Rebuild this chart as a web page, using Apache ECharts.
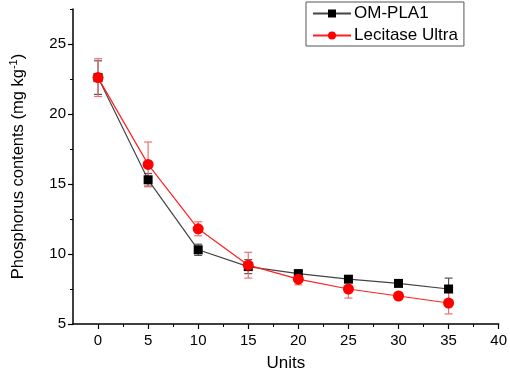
<!DOCTYPE html>
<html><head><meta charset="utf-8">
<script src="https://cdn.jsdelivr.net/npm/echarts@6/dist/echarts.min.js"></script>
<style>html,body{margin:0;padding:0;background:#fff}#c{width:510px;height:377px}</style>
</head><body><div id="c"></div>
<script>
var units = [0, 5, 10, 15, 20, 25, 30, 35];
var omPla1 = [22.6, 15.3, 10.3, 9.1, 8.6, 8.2, 7.9, 7.5];
var omPla1Err = [1.2, 0.45, 0.4, 0.5, 0.2, 0.15, 0.2, 0.78];
var lecitase = [22.6, 16.4, 11.8, 9.2, 8.2, 7.5, 7.0, 6.5];
var lecitaseErr = [1.35, 1.6, 0.5, 0.92, 0.4, 0.65, 0.25, 0.78];
var xMajor = [0, 5, 10, 15, 20, 25, 30, 35, 40];
var xMinor = [2.5, 7.5, 12.5, 17.5, 22.5, 27.5, 32.5, 37.5];
var yMajor = [5, 10, 15, 20, 25];
var yMinor = [7.5, 12.5, 17.5, 22.5, 27.5];

var FONT = '"Liberation Sans", Arial, sans-serif';
function pairs(xs, ys){ return xs.map(function(x,i){ return [x, ys[i]]; }); }
function errData(xs, ys, es){ return xs.map(function(x,i){ return [x, ys[i]-es[i], ys[i]+es[i]]; }); }
function errSeries(name, data, color){
  return {
    type: 'custom', name: name + ' err', xAxisIndex: 0, yAxisIndex: 0, z: 1, silent: true,
    data: data,
    renderItem: function(params, api){
      var x = api.value(0);
      var lo = api.coord([x, api.value(1)]);
      var hi = api.coord([x, api.value(2)]);
      var w = 4;
      var st = {stroke: color, lineWidth: 1.2};
      return {type: 'group', children: [
        {type:'line', shape:{x1:lo[0], y1:lo[1], x2:hi[0], y2:hi[1]}, style: st},
        {type:'line', shape:{x1:lo[0]-w, y1:lo[1], x2:lo[0]+w, y2:lo[1]}, style: st},
        {type:'line', shape:{x1:hi[0]-w, y1:hi[1], x2:hi[0]+w, y2:hi[1]}, style: st}
      ]};
    }
  };
}
var axisLine = {show: true, onZero: false, lineStyle: {color: '#000', width: 1.5}};
var chart = echarts.init(document.getElementById('c'));
chart.setOption({
  animation: false,
  grid: {left: 58, right: 8, top: 9, bottom: 51, containLabel: false},
  legend: {
    orient: 'vertical', left: 306, top: 2, width: 156,
    itemWidth: 38, itemHeight: 10, itemGap: 5,
    padding: [3, 6, 2, 6],
    borderColor: '#555', borderWidth: 1,
    textStyle: {fontFamily: FONT, fontSize: 17, color: '#000', padding: [0, 0, 0, -2]},
    data: ['OM-PLA1', 'Lecitase Ultra']
  },
  xAxis: [{
    type: 'value', min: -2.5, max: 40,
    name: 'Units', nameLocation: 'middle', nameGap: 31,
    nameTextStyle: {fontFamily: FONT, fontSize: 17, color: '#000'},
    axisLine: axisLine,
    axisTick: {show: true, length: 5, customValues: xMajor, lineStyle: {color: '#000', width: 1.2}},
    axisLabel: {show: true, customValues: xMajor, margin: 9, fontFamily: FONT, fontSize: 15, color: '#000'},
    splitLine: {show: false}
  }, {
    type: 'value', min: -2.5, max: 40, position: 'bottom',
    axisLine: {show: false, onZero: false},
    axisTick: {show: true, length: 3, customValues: xMinor, lineStyle: {color: '#000', width: 1}},
    axisLabel: {show: false}, splitLine: {show: false}
  }],
  yAxis: [{
    type: 'value', min: 5, max: 27.5,
    name: '{a|Phosphorus contents (mg kg}{s|-1}{a|)}', nameLocation: 'middle', nameGap: 45,
    nameTextStyle: {
      rich: {
        a: {fontFamily: FONT, fontSize: 16.5, color: '#000'},
        s: {fontFamily: FONT, fontSize: 11, color: '#000', padding: [0, 0, 9, 0]}
      }
    },
    axisLine: axisLine,
    axisTick: {show: true, length: 5, customValues: yMajor, lineStyle: {color: '#000', width: 1.2}},
    axisLabel: {show: true, customValues: yMajor, margin: 7, fontFamily: FONT, fontSize: 15, color: '#000'},
    splitLine: {show: false}
  }, {
    type: 'value', min: 5, max: 27.5, position: 'left',
    axisLine: {show: false, onZero: false},
    axisTick: {show: true, length: 3, customValues: yMinor, lineStyle: {color: '#000', width: 1}},
    axisLabel: {show: false}, splitLine: {show: false}
  }],
  series: [
    errSeries('OM-PLA1', errData(units, omPla1, omPla1Err), '#555555'),
    errSeries('Lecitase Ultra', errData(units, lecitase, lecitaseErr), '#f07070'),
    {
      name: 'OM-PLA1', type: 'line', z: 3, data: pairs(units, omPla1),
      symbol: 'rect', symbolSize: 9,
      itemStyle: {color: '#000'}, lineStyle: {color: '#444', width: 1.2}
    },
    {
      name: 'Lecitase Ultra', type: 'line', z: 4, data: pairs(units, lecitase),
      symbol: 'circle', symbolSize: 11,
      itemStyle: {color: '#ff0000'}, lineStyle: {color: '#ff2020', width: 1.2}
    }
  ]
});
</script></body></html>
